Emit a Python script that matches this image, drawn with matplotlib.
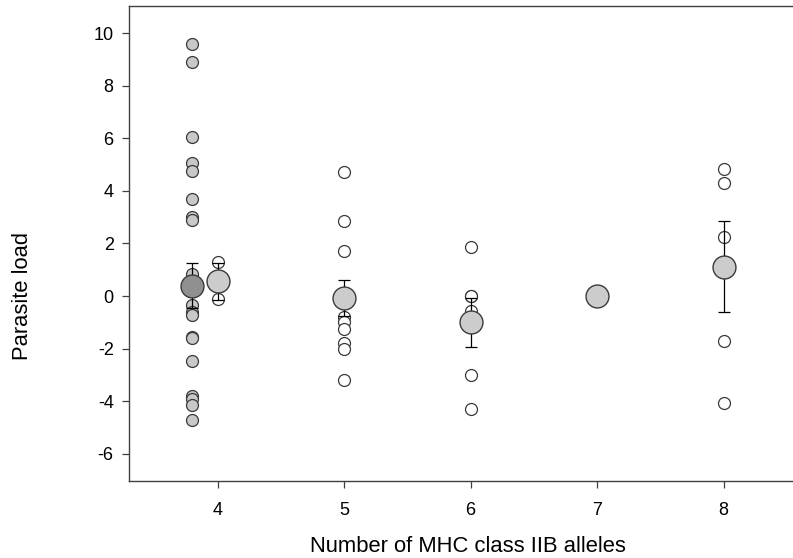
import matplotlib
matplotlib.use("Agg")
import matplotlib.pyplot as plt

plt.rcParams['font.family'] = ['Liberation Sans', 'DejaVu Sans']
plt.rcParams['axes.unicode_minus'] = False

# Individual observations
grey_x = 3.8
grey_vals = [9.6, 8.9, 6.05, 5.05, 4.75, 3.7, 3.0, 2.9, 0.85, -0.35, -0.6, -0.7,
             -1.55, -1.6, -2.45, -3.8, -3.9, -4.15, -4.7]

open_x = [4, 4,
          5, 5, 5, 5, 5, 5, 5, 5, 5,
          6, 6, 6, 6, 6, 6,
          8, 8, 8, 8, 8]
open_vals = [1.3, -0.1,
             4.72, 2.85, 1.71, -0.8, -1.0, -1.25, -1.8, -2.0, -3.2,
             1.86, 0.0, 0.0, -0.57, -3.0, -4.3,
             4.83, 4.29, 2.25, -1.7, -4.07]

# Means with standard errors
dark_mean_x = [3.8]
dark_mean = [0.4]
dark_err = [0.85]

mean_x = [4, 5, 6, 7, 8]
means = [0.57, -0.07, -1.0, 0.0, 1.12]
errs = [0.7, 0.68, 0.93, 0.0, 1.73]

xticks = [4, 5, 6, 7, 8]
yticks = [-6, -4, -2, 0, 2, 4, 6, 8, 10]

fig = plt.figure(figsize=(7.93, 5.58), dpi=100)
ax = fig.add_axes([129/793, 1 - 481/558, 1 - 129/793 + 0.01, (481 - 6)/558])

edge = '#3a3a3a'
ax.plot([grey_x] * len(grey_vals), grey_vals, 'o', ms=8.6, mfc='#c8c8c8',
        mec=edge, mew=0.9, zorder=2, ls='none')
ax.plot(open_x, open_vals, 'o', ms=8.6, mfc='white', mec=edge, mew=0.9,
        zorder=2, ls='none')

ax.errorbar(dark_mean_x, dark_mean, yerr=dark_err, fmt='none', ecolor='black',
            elinewidth=0.9, capsize=4, capthick=0.9, zorder=3)
ax.errorbar(mean_x, means, yerr=errs, fmt='none', ecolor='black',
            elinewidth=0.9, capsize=4, capthick=0.9, zorder=3)

ax.plot(dark_mean_x, dark_mean, 'o', ms=16.5, mfc='#909090', mec=edge,
        mew=1.0, zorder=4, ls='none')
ax.plot(mean_x, means, 'o', ms=16.5, mfc='#cccccc', mec=edge, mew=1.0,
        zorder=4, ls='none')

ax.set_xlim(3.3, 8.61)
ax.set_ylim(-7.03, 11.03)
ax.set_xticks(xticks)
ax.set_yticks(yticks)

for s in ['left', 'top', 'bottom']:
    ax.spines[s].set_color('#404040')
    ax.spines[s].set_linewidth(1.0)
ax.spines['right'].set_visible(False)

ax.tick_params(axis='both', direction='out', length=5, width=0.9,
               color='#404040', labelsize=13)
ax.tick_params(axis='x', pad=10)
ax.tick_params(axis='y', pad=6)

ax.set_xlabel('Number of MHC class IIB alleles', fontsize=15.8, va='center')
ax.xaxis.set_label_coords((464 - 129) / 664, (481 - 546) / 475)
ax.set_ylabel('Parasite load', fontsize=15.8, va='center')
ax.yaxis.set_label_coords((24 - 129) / 664, (481 - 296) / 475)

fig.savefig('out.png', dpi=100)
